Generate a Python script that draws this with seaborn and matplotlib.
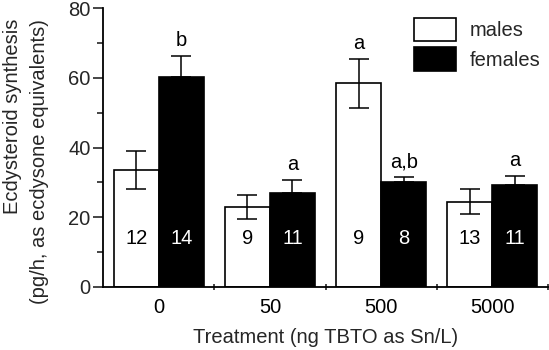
import matplotlib
matplotlib.use("Agg")
import matplotlib.pyplot as plt
import seaborn as sns
import pandas as pd
import numpy as np
from matplotlib.patches import Patch
from matplotlib.ticker import MultipleLocator, FixedLocator

treatments = ["0", "50", "500", "5000"]
sexes = ["males", "females"]
male_means = [33.5, 23.0, 58.4, 24.4]
male_err = [5.5, 3.5, 7.0, 3.6]
female_means = [60.3, 27.1, 30.0, 29.2]
female_err = [6.0, 3.6, 1.6, 2.7]
male_n = ["12", "9", "9", "13"]
female_n = ["14", "11", "8", "11"]
male_letters = ["", "", "a", ""]
female_letters = ["b", "a", "a,b", "a"]

sns.set_style("ticks")
plt.rcParams["font.family"] = ["Liberation Sans", "DejaVu Sans"]

df = pd.DataFrame({
    "Treatment": treatments * 2,
    "Sex": ["males"] * 4 + ["females"] * 4,
    "Value": male_means + female_means,
})

fig = plt.figure(figsize=(5.49, 3.5), dpi=100)
ax = fig.add_axes([0.188, 0.18, 0.81, 0.797])

sns.barplot(data=df, x="Treatment", y="Value", hue="Sex", order=treatments,
            hue_order=sexes, palette={"males": "white", "females": "black"},
            edgecolor="black", linewidth=1.2, width=0.81, errorbar=None,
            legend=False, ax=ax)

bars = ax.patches
male_bars = bars[:4]
female_bars = bars[4:8]
fs = 14.5
lfs = 14.5
for i in range(4):
    mb = male_bars[i]
    fb = female_bars[i]
    mx = mb.get_x() + mb.get_width() / 2
    fx = fb.get_x() + fb.get_width() / 2
    ax.errorbar(mx, male_means[i], yerr=male_err[i], fmt="none", ecolor="black",
                elinewidth=1.1, capsize=7, capthick=1.1, zorder=3)
    ax.errorbar(fx, female_means[i], yerr=[[0], [female_err[i]]], fmt="none",
                ecolor="black", elinewidth=1.1, capsize=7, capthick=1.1, zorder=3)
    ax.text(mx, 14, male_n[i], ha="center", va="center", fontsize=fs, color="black")
    ax.text(fx, 14, female_n[i], ha="center", va="center", fontsize=fs, color="white")
    if male_letters[i]:
        ax.text(mx, male_means[i] + male_err[i] + 1.6, male_letters[i], ha="center",
                va="bottom", fontsize=fs, color="black")
    if female_letters[i]:
        ax.text(fx, female_means[i] + female_err[i] + 1.6, female_letters[i], ha="center",
                va="bottom", fontsize=fs, color="black")

ax.set_xlim(-0.5, 3.5)
ax.set_ylim(0, 80)
ax.yaxis.set_major_locator(MultipleLocator(20))
ax.yaxis.set_minor_locator(MultipleLocator(10))
ax.xaxis.set_minor_locator(FixedLocator([0.5, 1.5, 2.5, 3.5]))
ax.tick_params(axis="x", which="major", length=0, labelsize=fs, pad=8, colors="black")
ax.tick_params(axis="x", which="minor", length=5, direction="inout", width=1.2)
ax.tick_params(axis="y", which="major", length=7, width=1.2, labelsize=fs, direction="out", pad=2)
ax.tick_params(axis="y", which="minor", length=4, width=1.2, direction="out")
for s in ["top", "right"]:
    ax.spines[s].set_visible(False)
for s in ["left", "bottom"]:
    ax.spines[s].set_linewidth(1.3)
    ax.spines[s].set_color("black")

ax.set_xlabel("Treatment (ng TBTO as Sn/L)", fontsize=lfs, labelpad=8)
ax.set_ylabel("Ecdysteroid synthesis\n(pg/h, as ecdysone equivalents)", fontsize=lfs,
              linespacing=1.5, multialignment="right")
ax.yaxis.set_label_coords(-0.122, 0.45)

handles = [Patch(facecolor="white", edgecolor="black", linewidth=1.2),
           Patch(facecolor="black", edgecolor="black", linewidth=1.2)]
ax.legend(handles, sexes, loc="upper right", bbox_to_anchor=(1.005, 1.0), frameon=False,
          fontsize=fs, handlelength=2.1, handleheight=1.4, handletextpad=0.65,
          labelspacing=0.3, borderaxespad=0.1)

fig.savefig("out.png", dpi=100)
